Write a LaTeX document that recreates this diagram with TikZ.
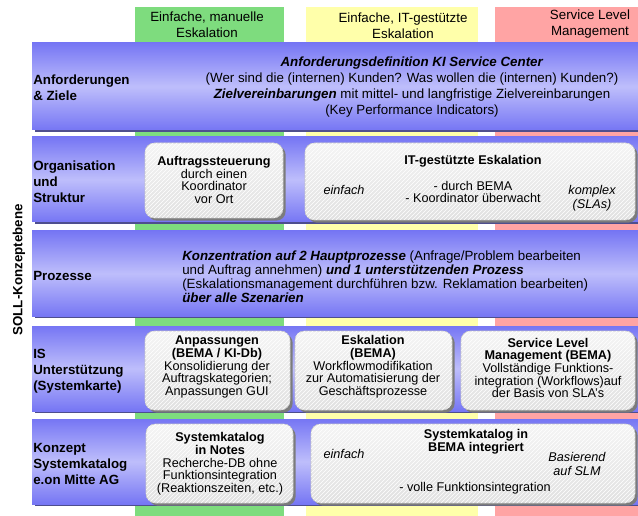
\documentclass[tikz,border=0pt]{standalone}
\usepackage{fontspec}
\setmainfont{Liberation Sans}
\usetikzlibrary{positioning, fit, shadows, patterns}

\definecolor{colgreen}{HTML}{7EDC7E}
\definecolor{colyellow}{HTML}{FFFFAA}
\definecolor{colred}{HTML}{FFA4A4}
\definecolor{bandtop}{HTML}{7676F4}
\definecolor{bandmid}{HTML}{BEBEFB}
\definecolor{bandshade}{HTML}{4E4E8E}
\definecolor{boxshade}{HTML}{7C7C7C}

\tikzset{
  band/.style={inner sep=0pt, top color=bandtop, bottom color=bandtop, middle color=bandmid,
    drop shadow={shadow xshift=2pt, shadow yshift=-1.5pt, fill=bandshade, opacity=1}},
  greybox/.style={inner sep=0pt, rounded corners=7pt, draw=gray!45, top color=gray!8, bottom color=gray!24,
    drop shadow={shadow xshift=2pt, shadow yshift=-2pt, fill=boxshade, opacity=1},
    postaction={pattern=north east lines, pattern color=white}},
  rowlabel/.style={anchor=west, align=left, inner sep=0pt, font=\fontsize{10}{12}\selectfont\bfseries},
  boxtext/.style={align=center, inner sep=0pt, font=\fontsize{9.5}{9.5}\selectfont},
  boxitalic/.style={align=center, inner sep=0pt, font=\fontsize{9.5}{10.5}\selectfont\itshape}
}

\begin{document}
\begin{tikzpicture}[x=0.75pt, y=-0.75pt, font=\fontsize{10}{12}\selectfont]
\useasboundingbox (0,0) rectangle (638,516);

% scenario columns
\fill[colgreen] (135,7) rectangle (284,516);
\fill[colyellow] (306,7) rectangle (478,516);
\fill[colred] (495,7) rectangle (638,516);

\node[align=center, inner sep=0pt] (hdManual) at (207,25) {Einfache, manuelle\\Eskalation};
\node[align=center, inner sep=0pt] (hdIT) at (403,26) {Einfache, IT-gestützte\\Eskalation};
\node[align=center, inner sep=0pt] (hdSLM) at (590,24) {Service Level\\Management};

% layers
\node[band, fit={(32,43) (638,130)}] (bandAnf) {};
\node[band, fit={(32,137) (638,222)}] (bandOrg) {};
\node[band, fit={(32,231) (638,316)}] (bandProz) {};
\node[band, fit={(32,326) (638,411)}] (bandIS) {};
\node[band, fit={(32,419) (638,504)}] (bandKat) {};

\node[rotate=90, inner sep=0pt, font=\fontsize{10}{12}\selectfont\bfseries] (soll) at (19,270) {SOLL-Konzeptebene};

\node[rowlabel] (lblAnf) at (33,88) {Anforderungen\\\& Ziele};
\node[rowlabel] (lblOrg) at (33,182) {Organisation\\und\\Struktur};
\node[rowlabel] (lblProz) at (33,276) {Prozesse};
\node[rowlabel] (lblIS) at (33,371) {IS\\Unterstützung\\(Systemkarte)};
\node[rowlabel] (lblKat) at (33,464) {Konzept\\Systemkatalog\\e.on Mitte AG};

% Anforderungen
\node[align=center, inner sep=0pt] (txtAnf) at (412,87)
  {\textbf{\textit{Anforderungsdefinition KI Service Center}}\\
   (Wer sind die (internen) Kunden? Was wollen die (internen) Kunden?)\\
   \textbf{\textit{Zielvereinbarungen}} mit mittel- und langfristige Zielvereinbarungen\\
   (Key Performance Indicators)};

% Organisation
\node[greybox, fit={(145,143) (283,218)}] (boxAuftrag) {};
\node[boxtext] (txtAuftrag) at (214,180) {\textbf{Auftragssteuerung}\\durch einen\\Koordinator\\vor Ort};
\node[greybox, fit={(305,143) (635,220)}] (boxITEsk) {};
\node[boxtext] (ttlITEsk) at (473,161) {\textbf{IT-gestützte Eskalation}};
\node[boxitalic] (einfachOrg) at (344,190) {einfach};
\node[boxtext] (txtITEsk) at (473,192) {- durch BEMA\\- Koordinator überwacht};
\node[boxitalic] (komplexOrg) at (592,198) {komplex\\(SLAs)};

% Prozesse
\node[anchor=west, align=left, inner sep=0pt, font=\fontsize{10}{10.4}\selectfont] (txtProz) at (182,277)
  {\textbf{\textit{Konzentration auf 2 Hauptprozesse}} (Anfrage/Problem bearbeiten\\
   und Auftrag annehmen) \textbf{\textit{und 1 unterstützenden Prozess}}\\
   (Eskalationsmanagement durchführen bzw. Reklamation bearbeiten)\\
   \textbf{\textit{über alle Szenarien}}};

% IS Unterstuetzung
\node[greybox, fit={(145,331) (290,410)}] (boxAnpass) {};
\node[boxtext] (txtAnpass) at (217,367) {\textbf{Anpassungen}\\\textbf{(BEMA / KI-Db)}\\Konsolidierung der\\Auftragskategorien;\\Anpassungen GUI};
\node[greybox, fit={(295,331) (452,410)}] (boxEskal) {};
\node[boxtext] (txtEskal) at (373,367) {\textbf{Eskalation}\\\textbf{(BEMA)}\\Workflowmodifikation\\zur Automatisierung der\\Geschäftsprozesse};
\node[greybox, fit={(461,331) (635,410)}] (boxSLM) {};
\node[boxtext] (txtSLM) at (548,368) {\textbf{Service Level}\\\textbf{Management (BEMA)}\\Vollständige Funktions-\\integration (Workflows)auf\\der Basis von SLA's};

% Systemkatalog
\node[greybox, fit={(146,424) (293,503)}] (boxNotes) {};
\node[boxtext] (txtNotes) at (220,464) {\textbf{Systemkatalog}\\\textbf{in Notes}\\Recherche-DB ohne\\Funktionsintegration\\(Reaktionszeiten, etc.)};
\node[greybox, fit={(311,424) (635,503)}] (boxBEMA) {};
\node[boxtext] (ttlBEMA) at (476,442) {\textbf{Systemkatalog in}\\\textbf{BEMA integriert}};
\node[boxitalic] (einfachKat) at (344,454) {einfach};
\node[boxitalic] (slmKat) at (577,464) {Basierend\\auf SLM};
\node[boxtext] (txtBEMA) at (475,488) {- volle Funktionsintegration};

\end{tikzpicture}
\end{document}
